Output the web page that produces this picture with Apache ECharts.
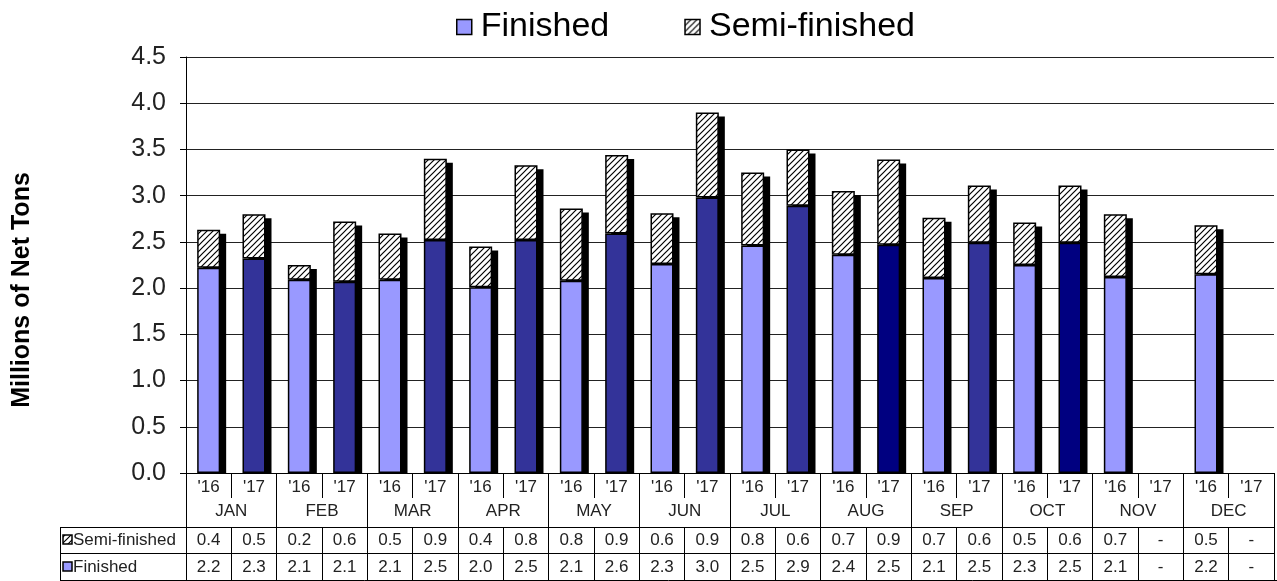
<!DOCTYPE html>
<html><head><meta charset="utf-8">
<script src="https://cdn.jsdelivr.net/npm/echarts@6/dist/echarts.min.js"></script>
<style>html,body{margin:0;padding:0;background:#fff}#c{width:1277px;height:581px}</style>
</head><body><div id="c"></div>
<script>
// ---- data ----
const months = ['JAN','FEB','MAR','APR','MAY','JUN','JUL','AUG','SEP','OCT','NOV','DEC'];
const years = ["'16", "'17"];
const yearLabels = months.flatMap(() => years);
const finished = [2.22,2.32, 2.09,2.07, 2.09,2.52, 2.01,2.52, 2.08,2.59, 2.26,2.98, 2.46,2.89, 2.36,2.47, 2.11,2.49, 2.25,2.49, 2.12,null, 2.15,null];
const semiFinished = [0.41,0.48, 0.16,0.65, 0.50,0.88, 0.44,0.81, 0.78,0.85, 0.55,0.92, 0.79,0.61, 0.69,0.92, 0.65,0.62, 0.46,0.62, 0.68,null, 0.53,null];
const semiTable = ['0.4','0.5','0.2','0.6','0.5','0.9','0.4','0.8','0.8','0.9','0.6','0.9','0.8','0.6','0.7','0.9','0.7','0.6','0.5','0.6','0.7','-','0.5','-'];
const finTable  = ['2.2','2.3','2.1','2.1','2.1','2.5','2.0','2.5','2.1','2.6','2.3','3.0','2.5','2.9','2.4','2.5','2.1','2.5','2.3','2.5','2.1','-','2.2','-'];

// ---- styles ----
const C16 = '#9999FF', C17 = '#333399', CNAVY = '#000080';
const navyMonths = ['AUG','OCT'];
const FONT = '"Liberation Sans", Arial, sans-serif';
const BAR_W = 23, SH_X = 6, SH_Y = 4;

function hatch() {
  const s = 6, cv = document.createElement('canvas');
  cv.width = s; cv.height = s;
  const g = cv.getContext('2d');
  g.fillStyle = '#fff'; g.fillRect(0,0,s,s);
  g.strokeStyle = '#000'; g.lineWidth = 1.2;
  g.beginPath();
  g.moveTo(-1, s+1); g.lineTo(s+1, -1);
  g.moveTo(-1, 1); g.lineTo(1, -1);
  g.moveTo(s-1, s+1); g.lineTo(s+1, s-1);
  g.stroke();
  return cv;
}
const hatchPattern = { image: hatch(), repeat: 'repeat' };

const finData = finished.map((v, i) => {
  const m = months[Math.floor(i / 2)];
  let c = C16;
  if (i % 2 === 1) c = navyMonths.includes(m) ? CNAVY : C17;
  return { value: v, itemStyle: { color: c } };
});
const totals = finished.map((v, i) => v == null ? null : v + semiFinished[i]);

const lbl = { fontFamily: FONT, fontSize: 17, color: '#222', lineHeight: 17, interval: 0 };

const chart = echarts.init(document.getElementById('c'), null, { renderer: 'canvas' });
chart.setOption({
  animation: false,
  backgroundColor: '#fff',
  textStyle: { fontFamily: FONT },
  legend: {
    top: 5, left: 451, itemGap: 75, itemWidth: 15, itemHeight: 15, icon: 'rect',
    data: ['Finished', 'Semi-finished'],
    textStyle: { fontFamily: FONT, fontSize: 34, color: '#000', padding: [0, 0, 0, 4] },
    itemStyle: { borderColor: '#000', borderWidth: 1.5 }
  },
  grid: { left: 186, right: 3, top: 57, bottom: 108, containLabel: false },
  xAxis: [
    { type: 'category', data: yearLabels, position: 'bottom', offset: 0,
      axisLine: { show: true, lineStyle: { color: '#000', width: 1 } },
      axisTick: { show: true, interval: 0, length: 25, lineStyle: { color: '#000' } },
      axisLabel: Object.assign({}, lbl, { margin: 6 }) },
    { type: 'category', data: months, position: 'bottom', offset: 0,
      axisLine: { show: false },
      axisTick: { show: true, interval: 0, length: 54, lineStyle: { color: '#000' } },
      axisLabel: Object.assign({}, lbl, { margin: 30 }) },
    { type: 'category', data: semiTable, position: 'bottom', offset: 54,
      axisLine: { show: true, lineStyle: { color: '#000', width: 1 } },
      axisTick: { show: true, interval: 0, length: 26, lineStyle: { color: '#000' } },
      axisLabel: Object.assign({}, lbl, { margin: 5 }) },
    { type: 'category', data: finTable, position: 'bottom', offset: 80,
      axisLine: { show: true, lineStyle: { color: '#000', width: 1 } },
      axisTick: { show: true, interval: 0, length: 28, lineStyle: { color: '#000' } },
      axisLabel: Object.assign({}, lbl, { margin: 6 }) }
  ],
  yAxis: {
    type: 'value', min: 0, max: 4.5, interval: 0.5,
    axisLine: { show: true, lineStyle: { color: '#000', width: 1 } },
    axisTick: { show: true, length: 6, lineStyle: { color: '#000' } },
    axisLabel: { fontFamily: FONT, fontSize: 25, color: '#222', margin: 20, formatter: v => v.toFixed(1) },
    splitLine: { show: true, lineStyle: { color: '#222', width: 1 } }
  },
  series: [
    { name: 'shadow', type: 'custom', xAxisIndex: 0, z: 1, silent: true,
      data: totals.map((t, i) => [i, t]),
      renderItem: (params, api) => {
        const t = api.value(1);
        if (t == null || isNaN(t)) return null;
        const top = api.coord([api.value(0), t]);
        const base = api.coord([api.value(0), 0]);
        return { type: 'rect',
          shape: { x: top[0] - BAR_W / 2 + SH_X, y: top[1] + SH_Y, width: BAR_W, height: base[1] - top[1] - SH_Y },
          style: { fill: '#000' } };
      } },
    { name: 'Finished', type: 'bar', stack: 'total', xAxisIndex: 0, barWidth: BAR_W, z: 2,
      data: finData,
      itemStyle: { color: C16, borderColor: '#000', borderWidth: 1.5 } },
    { name: 'Semi-finished', type: 'bar', stack: 'total', xAxisIndex: 0, barWidth: BAR_W, z: 2,
      data: semiFinished,
      itemStyle: { color: hatchPattern, borderColor: '#000', borderWidth: 1.5 } }
  ],
  graphic: [
    { type: 'text', x: 22, y: 290, rotation: Math.PI / 2,
      style: { text: 'Millions of Net Tons', fontFamily: FONT, fontSize: 25, fontWeight: 'bold', fill: '#000', align: 'center', verticalAlign: 'middle' } },
    { type: 'line', shape: { x1: 60, y1: 527.5, x2: 186, y2: 527.5 }, style: { stroke: '#000', lineWidth: 1 } },
    { type: 'line', shape: { x1: 60, y1: 553.5, x2: 186, y2: 553.5 }, style: { stroke: '#000', lineWidth: 1 } },
    { type: 'line', shape: { x1: 60, y1: 580.5, x2: 1277, y2: 580.5 }, style: { stroke: '#000', lineWidth: 1 } },
    { type: 'line', shape: { x1: 60.5, y1: 527, x2: 60.5, y2: 581 }, style: { stroke: '#000', lineWidth: 1 } },
    { type: 'rect', shape: { x: 63, y: 535, width: 9, height: 9 }, style: { fill: hatchPattern, stroke: '#000', lineWidth: 1.5 } },
    { type: 'text', x: 73, y: 540, style: { text: 'Semi-finished', fontFamily: FONT, fontSize: 17, fill: '#222', verticalAlign: 'middle' } },
    { type: 'rect', shape: { x: 63, y: 562, width: 9, height: 9 }, style: { fill: C16, stroke: '#000', lineWidth: 1.5 } },
    { type: 'text', x: 73, y: 567, style: { text: 'Finished', fontFamily: FONT, fontSize: 17, fill: '#222', verticalAlign: 'middle' } }
  ]
});
</script>
</body></html>
